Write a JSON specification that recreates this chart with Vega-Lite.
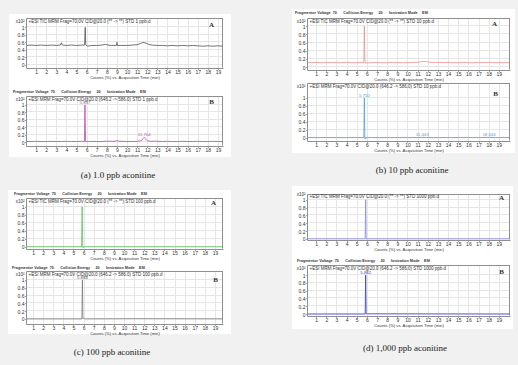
{
 "$schema": "https://vega.github.io/schema/vega-lite/v6.json",
 "background": "#f1f1f1",
 "padding": {"left": 7, "top": 8, "right": 12, "bottom": 12},
 "datasets": {
  "aA": [{"t":0.05,"v":0.52},{"t":0.5,"v":0.53},{"t":1,"v":0.52},{"t":1.5,"v":0.53},{"t":2,"v":0.52},{"t":2.5,"v":0.53},{"t":3,"v":0.52},{"t":3.4,"v":0.53},{"t":3.5,"v":0.59},{"t":3.6,"v":0.53},{"t":4,"v":0.52},{"t":4.5,"v":0.53},{"t":5,"v":0.52},{"t":5.5,"v":0.53},{"t":5.8,"v":0.53},{"t":5.86,"v":1.0},{"t":5.92,"v":0.53},{"t":6.1,"v":0.5},{"t":6.5,"v":0.52},{"t":7,"v":0.52},{"t":7.5,"v":0.53},{"t":7.9,"v":0.55},{"t":8.1,"v":0.53},{"t":8.5,"v":0.52},{"t":8.95,"v":0.52},{"t":9.0,"v":0.6},{"t":9.05,"v":0.52},{"t":9.5,"v":0.52},{"t":10,"v":0.52},{"t":10.5,"v":0.53},{"t":11,"v":0.54},{"t":11.3,"v":0.57},{"t":11.6,"v":0.6},{"t":11.9,"v":0.58},{"t":12.2,"v":0.54},{"t":12.5,"v":0.53},{"t":13,"v":0.52},{"t":13.5,"v":0.52},{"t":14,"v":0.51},{"t":14.5,"v":0.52},{"t":15,"v":0.51},{"t":15.5,"v":0.52},{"t":16,"v":0.51},{"t":16.5,"v":0.52},{"t":17,"v":0.51},{"t":17.5,"v":0.5},{"t":18,"v":0.51},{"t":18.5,"v":0.5},{"t":19,"v":0.51},{"t":19.45,"v":0.5}],
  "aB": [{"t":0.05,"v":0.02},{"t":0.5,"v":0.02},{"t":1,"v":0.025},{"t":1.5,"v":0.02},{"t":2,"v":0.02},{"t":2.5,"v":0.025},{"t":3,"v":0.02},{"t":3.5,"v":0.02},{"t":4,"v":0.025},{"t":4.5,"v":0.02},{"t":5,"v":0.02},{"t":5.5,"v":0.025},{"t":5.78,"v":0.02},{"t":5.837,"v":1.0},{"t":5.9,"v":0.02},{"t":6.2,"v":0.02},{"t":6.5,"v":0.025},{"t":7,"v":0.02},{"t":7.5,"v":0.02},{"t":8,"v":0.03},{"t":8.5,"v":0.025},{"t":8.9,"v":0.03},{"t":9.0,"v":0.05},{"t":9.1,"v":0.03},{"t":9.5,"v":0.025},{"t":10,"v":0.02},{"t":10.5,"v":0.02},{"t":11,"v":0.025},{"t":11.4,"v":0.04},{"t":11.6,"v":0.1},{"t":11.704,"v":0.13},{"t":11.8,"v":0.1},{"t":12.0,"v":0.04},{"t":12.3,"v":0.025},{"t":12.7,"v":0.03},{"t":13,"v":0.025},{"t":13.5,"v":0.02},{"t":14,"v":0.025},{"t":14.5,"v":0.02},{"t":15,"v":0.02},{"t":15.5,"v":0.025},{"t":16,"v":0.02},{"t":16.5,"v":0.02},{"t":17,"v":0.025},{"t":17.5,"v":0.02},{"t":18,"v":0.02},{"t":18.5,"v":0.025},{"t":19,"v":0.02},{"t":19.45,"v":0.02}],
  "bA": [{"t":0.15,"v":0.11},{"t":0.5,"v":0.11},{"t":1,"v":0.115},{"t":1.5,"v":0.11},{"t":2,"v":0.11},{"t":2.5,"v":0.115},{"t":3,"v":0.11},{"t":3.5,"v":0.11},{"t":4,"v":0.115},{"t":4.5,"v":0.11},{"t":5,"v":0.11},{"t":5.5,"v":0.115},{"t":5.7,"v":0.11},{"t":5.75,"v":1.0},{"t":5.8,"v":0.2},{"t":5.85,"v":0.1},{"t":6.0,"v":0.105},{"t":6.5,"v":0.11},{"t":7,"v":0.11},{"t":7.5,"v":0.11},{"t":8,"v":0.11},{"t":8.5,"v":0.115},{"t":9,"v":0.11},{"t":9.5,"v":0.11},{"t":10,"v":0.11},{"t":10.5,"v":0.115},{"t":11,"v":0.115},{"t":11.3,"v":0.13},{"t":11.6,"v":0.14},{"t":11.9,"v":0.13},{"t":12.2,"v":0.12},{"t":12.5,"v":0.115},{"t":13,"v":0.115},{"t":13.5,"v":0.11},{"t":14,"v":0.115},{"t":14.5,"v":0.11},{"t":15,"v":0.11},{"t":15.5,"v":0.115},{"t":16,"v":0.11},{"t":16.5,"v":0.11},{"t":17,"v":0.115},{"t":17.5,"v":0.11},{"t":18,"v":0.115},{"t":18.5,"v":0.11},{"t":19,"v":0.11},{"t":19.5,"v":0.11},{"t":20.05,"v":0.11}],
  "bB": [{"t":0.15,"v":0.005},{"t":1,"v":0.005},{"t":2,"v":0.006},{"t":3,"v":0.005},{"t":4,"v":0.005},{"t":5,"v":0.006},{"t":5.7,"v":0.005},{"t":5.75,"v":1.0},{"t":5.8,"v":0.0},{"t":5.82,"v":-0.03},{"t":5.9,"v":0.005},{"t":7,"v":0.005},{"t":8,"v":0.005},{"t":9,"v":0.006},{"t":10,"v":0.005},{"t":11,"v":0.005},{"t":11.443,"v":0.012},{"t":11.9,"v":0.005},{"t":13,"v":0.005},{"t":14,"v":0.005},{"t":15,"v":0.005},{"t":16,"v":0.005},{"t":17,"v":0.005},{"t":18.034,"v":0.012},{"t":18.5,"v":0.005},{"t":19,"v":0.005},{"t":20.05,"v":0.005}],
  "cA": [{"t":0.35,"v":0.005},{"t":3,"v":0.005},{"t":5.8,"v":0.005},{"t":5.86,"v":1.0},{"t":5.92,"v":0.005},{"t":5.95,"v":-0.02},{"t":6.0,"v":0.005},{"t":10,"v":0.005},{"t":15,"v":0.005},{"t":19.75,"v":0.005}],
  "cB": [{"t":0.35,"v":0.0},{"t":5.83,"v":0.0},{"t":5.884,"v":1.0},{"t":5.93,"v":0.02},{"t":6.05,"v":0.01},{"t":6.2,"v":0.0},{"t":11.5,"v":0.005},{"t":19.75,"v":0.0}],
  "dA": [{"t":0.15,"v":0.0},{"t":5.83,"v":0.0},{"t":5.88,"v":1.0},{"t":5.93,"v":0.0},{"t":20.05,"v":0.0}],
  "dB": [{"t":0.15,"v":0.0},{"t":5.83,"v":0.0},{"t":5.882,"v":1.0},{"t":5.93,"v":0.01},{"t":6.05,"v":0.005},{"t":20.05,"v":0.0}],
  "peaks": [{"p":"aB","t":5.837,"v":1.0,"label":"5.837"},{"p":"aB","t":11.704,"v":0.13,"label":"11.704"},{"p":"bB","t":5.75,"v":1.0,"label":"5.750"},{"p":"bB","t":11.443,"v":0.012,"label":"11.443"},{"p":"bB","t":18.034,"v":0.012,"label":"18.034"},{"p":"cB","t":5.884,"v":1.0,"label":"5.884"},{"p":"dB","t":5.882,"v":1.0,"label":"5.882"}]
 },
 "spacing": 59,
 "bounds": "full",
 "hconcat": [
  {"spacing": 0, "bounds": "flush", "vconcat": [
   {"width":197,"height":50,"view":{"fill":"white","stroke":null},
    "layer":[
     {"data":{"values":[{}]},"mark":{"type":"rect","fill":"white"},
      "encoding":{
       "x":{"datum":-1.683,"type":"quantitative","scale":{"domain":[0,19.5],"nice":false,"zero":false},"axis":{"orient":"bottom","zindex":1,"grid":false,"values":[1,2,3,4,5,6,7,8,9,10,11,12,13,14,15,16,17,18,19],"format":"d","title":"Counts (%) vs. Acquisition Time (min)"}},
       "x2":{"datum":0},
       "y":{"datum":1.356,"type":"quantitative","scale":{"domain":[-0.08,1.25],"nice":false,"zero":false},"axis":{"orient":"left","zindex":1,"grid":false,"values":[0,0.2,0.4,0.6,0.8,1],"format":".1~f","title":"x10²","titleX":-2,"titleY":3}},
       "y2":{"datum":-0.825}}},
     {"data":{"values":[{}]},"mark":{"type":"rect","fill":"white"},"encoding":{"x":{"datum":19.5,"type":"quantitative","axis":null},"x2":{"datum":20.292},"y":{"datum":1.356,"type":"quantitative","axis":null},"y2":{"datum":-0.825}}},
     {"data":{"values":[{}]},"mark":{"type":"rect","fill":"white"},"encoding":{"x":{"datum":-1.683,"type":"quantitative","axis":null},"x2":{"datum":20.292},"y":{"datum":1.356,"type":"quantitative","axis":null},"y2":{"datum":1.25}}},
     {"data":{"values":[{}]},"mark":{"type":"rect","fill":"white"},"encoding":{"x":{"datum":-1.683,"type":"quantitative","axis":null},"x2":{"datum":20.292},"y":{"datum":-0.08,"type":"quantitative","axis":null},"y2":{"datum":-0.825}}},
     {"data":{"name":"aA"},"mark":{"type":"line","stroke":"#505050","strokeWidth":0.8},
      "encoding":{
       "x":{"field":"t","type":"quantitative","axis":{"orient":"top","zindex":0,"grid":true,"values":[1,2,3,4,5,6,7,8,9,10,11,12,13,14,15,16,17,18,19],"title":"+ESI TIC MRM Frag=70.0V CID@20.0 (** -> **) STD 1 ppb.d","titleX":2,"titleY":3}},
       "y":{"field":"v","type":"quantitative","axis":{"orient":"right","zindex":0,"grid":true,"translate":-0.5,"values":[0,0.2,0.4,0.6,0.8,1],"title":"A","titleX":-11,"titleY":7}}}}
    ],
    "resolve":{"axis":{"x":"independent","y":"independent"}}},
   {"width":197,"height":28,"data":{"values":[{}]},"mark":"text","encoding":{"text":{"value":""}}},
   {"width":197,"height":50,"view":{"fill":"white","stroke":null},
    "title":{"text":"Fragmentor Voltage\u00a0\u00a070\u00a0\u00a0\u00a0\u00a0\u00a0\u00a0Collision Energy\u00a0\u00a0\u00a0\u00a0\u00a020\u00a0\u00a0\u00a0\u00a0\u00a0\u00a0Ionization Mode\u00a0\u00a0\u00a0\u00a0ESI","offset":1,"dx":-13},
    "layer":[
     {"data":{"values":[{}]},"mark":{"type":"rect","fill":"white"},
      "encoding":{
       "x":{"datum":-1.683,"type":"quantitative","scale":{"domain":[0,19.5],"nice":false,"zero":false},"axis":{"orient":"bottom","zindex":1,"grid":false,"values":[1,2,3,4,5,6,7,8,9,10,11,12,13,14,15,16,17,18,19],"format":"d","title":"Counts (%) vs. Acquisition Time (min)"}},
       "x2":{"datum":0},
       "y":{"datum":1.267,"type":"quantitative","scale":{"domain":[-0.1,1.24],"nice":false,"zero":false},"axis":{"orient":"left","zindex":1,"grid":false,"values":[0,0.2,0.4,0.6,0.8,1],"format":".1~f","title":"x10²","titleX":-2,"titleY":3}},
       "y2":{"datum":-0.395}}},
     {"data":{"values":[{}]},"mark":{"type":"rect","fill":"white"},"encoding":{"x":{"datum":19.5,"type":"quantitative","axis":null},"x2":{"datum":20.292},"y":{"datum":1.267,"type":"quantitative","axis":null},"y2":{"datum":-0.395}}},
     {"data":{"values":[{}]},"mark":{"type":"rect","fill":"white"},"encoding":{"x":{"datum":-1.683,"type":"quantitative","axis":null},"x2":{"datum":20.292},"y":{"datum":1.267,"type":"quantitative","axis":null},"y2":{"datum":1.24}}},
     {"data":{"values":[{}]},"mark":{"type":"rect","fill":"white"},"encoding":{"x":{"datum":-1.683,"type":"quantitative","axis":null},"x2":{"datum":20.292},"y":{"datum":-0.1,"type":"quantitative","axis":null},"y2":{"datum":-0.395}}},
     {"data":{"name":"aB"},"mark":{"type":"line","stroke":"#b848b8","strokeWidth":0.8},
      "encoding":{
       "x":{"field":"t","type":"quantitative","axis":{"orient":"top","zindex":0,"grid":true,"values":[1,2,3,4,5,6,7,8,9,10,11,12,13,14,15,16,17,18,19],"title":"+ESI MRM Frag=70.0V CID@20.0 (646.2 -> 586.0) STD 1 ppb.d","titleX":2,"titleY":3}},
       "y":{"field":"v","type":"quantitative","axis":{"orient":"right","zindex":0,"grid":true,"translate":-0.5,"values":[0,0.2,0.4,0.6,0.8,1],"title":"B","titleX":-11,"titleY":6}}}},
     {"data":{"name":"peaks"},"transform":[{"filter":"datum.p === 'aB'"}],"mark":{"type":"text","fontSize":4.3,"baseline":"bottom","dy":0,"color":"#b848b8"},
      "encoding":{"x":{"field":"t","type":"quantitative","axis":null},"y":{"field":"v","type":"quantitative","axis":null},"text":{"field":"label"}}}
    ],
    "resolve":{"axis":{"x":"independent","y":"independent"}}},
   {"width":197,"height":52,"data":{"values":[{"cap":"(a) 1.0 ppb aconitine"}]},"mark":{"type":"text","font":"Liberation Serif","fontSize":9,"color":"#222","dx":-6.5,"dy":3},"encoding":{"text":{"field":"cap"}}},
   {"width":197,"height":51,"view":{"fill":"white","stroke":null},
    "title":{"text":"Fragmentor Voltage\u00a0\u00a070\u00a0\u00a0\u00a0\u00a0\u00a0\u00a0Collision Energy\u00a0\u00a0\u00a0\u00a0\u00a020\u00a0\u00a0\u00a0\u00a0\u00a0\u00a0Ionization Mode\u00a0\u00a0\u00a0\u00a0ESI","offset":-6,"dx":-12},
    "layer":[
     {"data":{"values":[{}]},"mark":{"type":"rect","fill":"white"},
      "encoding":{
       "x":{"datum":-1.482,"type":"quantitative","scale":{"domain":[0.3,19.8],"nice":false,"zero":false},"axis":{"orient":"bottom","zindex":1,"grid":false,"values":[1,2,3,4,5,6,7,8,9,10,11,12,13,14,15,16,17,18,19],"format":"d","title":"Counts (%) vs. Acquisition Time (min)"}},
       "x2":{"datum":0.3},
       "y":{"datum":1.419,"type":"quantitative","scale":{"domain":[-0.05,1.22],"nice":false,"zero":false},"axis":{"orient":"left","zindex":1,"grid":false,"values":[0,0.2,0.4,0.6,0.8,1],"format":".1~f","title":"x10²","titleX":-2,"titleY":3}},
       "y2":{"datum":-0.598}}},
     {"data":{"values":[{}]},"mark":{"type":"rect","fill":"white"},"encoding":{"x":{"datum":19.8,"type":"quantitative","axis":null},"x2":{"datum":20.59},"y":{"datum":1.419,"type":"quantitative","axis":null},"y2":{"datum":-0.598}}},
     {"data":{"values":[{}]},"mark":{"type":"rect","fill":"white"},"encoding":{"x":{"datum":-1.482,"type":"quantitative","axis":null},"x2":{"datum":20.59},"y":{"datum":1.419,"type":"quantitative","axis":null},"y2":{"datum":1.22}}},
     {"data":{"values":[{}]},"mark":{"type":"rect","fill":"white"},"encoding":{"x":{"datum":-1.482,"type":"quantitative","axis":null},"x2":{"datum":20.59},"y":{"datum":-0.05,"type":"quantitative","axis":null},"y2":{"datum":-0.598}}},
     {"data":{"name":"cA"},"mark":{"type":"line","stroke":"#5cbf5c","strokeWidth":0.8},
      "encoding":{
       "x":{"field":"t","type":"quantitative","axis":{"orient":"top","zindex":0,"grid":true,"values":[1,2,3,4,5,6,7,8,9,10,11,12,13,14,15,16,17,18,19],"title":"+ESI TIC MRM Frag=70.0V CID@20.0 (** -> **) STD 100 ppb.d","titleX":2,"titleY":3}},
       "y":{"field":"v","type":"quantitative","axis":{"orient":"right","zindex":0,"grid":true,"translate":-0.5,"values":[0,0.2,0.4,0.6,0.8,1],"title":"A","titleX":-9,"titleY":5}}}}
    ],
    "resolve":{"axis":{"x":"independent","y":"independent"}}},
   {"width":197,"height":22,"data":{"values":[{}]},"mark":"text","encoding":{"text":{"value":""}}},
   {"width":197,"height":53,"view":{"fill":"white","stroke":null},
    "title":{"text":"Fragmentor Voltage\u00a0\u00a070\u00a0\u00a0\u00a0\u00a0\u00a0\u00a0Collision Energy\u00a0\u00a0\u00a0\u00a0\u00a020\u00a0\u00a0\u00a0\u00a0\u00a0\u00a0Ionization Mode\u00a0\u00a0\u00a0\u00a0ESI","offset":0,"dx":-14},
    "layer":[
     {"data":{"values":[{}]},"mark":{"type":"rect","fill":"white"},
      "encoding":{
       "x":{"datum":-1.482,"type":"quantitative","scale":{"domain":[0.3,19.8],"nice":false,"zero":false},"axis":{"orient":"bottom","zindex":1,"grid":false,"values":[1,2,3,4,5,6,7,8,9,10,11,12,13,14,15,16,17,18,19],"format":"d","title":"Counts (%) vs. Acquisition Time (min)"}},
       "x2":{"datum":0.3},
       "y":{"datum":1.256,"type":"quantitative","scale":{"domain":[-0.13,1.23],"nice":false,"zero":false},"axis":{"orient":"left","zindex":1,"grid":false,"values":[0,0.2,0.4,0.6,0.8,1],"format":".1~f","title":"x10²","titleX":-2,"titleY":3}},
       "y2":{"datum":-0.387}}},
     {"data":{"values":[{}]},"mark":{"type":"rect","fill":"white"},"encoding":{"x":{"datum":19.8,"type":"quantitative","axis":null},"x2":{"datum":20.59},"y":{"datum":1.256,"type":"quantitative","axis":null},"y2":{"datum":-0.387}}},
     {"data":{"values":[{}]},"mark":{"type":"rect","fill":"white"},"encoding":{"x":{"datum":-1.482,"type":"quantitative","axis":null},"x2":{"datum":20.59},"y":{"datum":1.256,"type":"quantitative","axis":null},"y2":{"datum":1.23}}},
     {"data":{"values":[{}]},"mark":{"type":"rect","fill":"white"},"encoding":{"x":{"datum":-1.482,"type":"quantitative","axis":null},"x2":{"datum":20.59},"y":{"datum":-0.13,"type":"quantitative","axis":null},"y2":{"datum":-0.387}}},
     {"data":{"name":"cB"},"mark":{"type":"line","stroke":"#777777","strokeWidth":0.8},
      "encoding":{
       "x":{"field":"t","type":"quantitative","axis":{"orient":"top","zindex":0,"grid":true,"values":[1,2,3,4,5,6,7,8,9,10,11,12,13,14,15,16,17,18,19],"title":"+ESI MRM Frag=70.0V CID@20.0 (646.2 -> 586.0) STD 100 ppb.d","titleX":2,"titleY":3}},
       "y":{"field":"v","type":"quantitative","axis":{"orient":"right","zindex":0,"grid":true,"translate":-0.5,"values":[0,0.2,0.4,0.6,0.8,1],"title":"B","titleX":-7,"titleY":9}}}},
     {"data":{"name":"peaks"},"transform":[{"filter":"datum.p === 'cB'"}],"mark":{"type":"text","fontSize":4.3,"baseline":"bottom","dy":0,"color":"#555555"},
      "encoding":{"x":{"field":"t","type":"quantitative","axis":null},"y":{"field":"v","type":"quantitative","axis":null},"text":{"field":"label"}}}
    ],
    "resolve":{"axis":{"x":"independent","y":"independent"}}},
   {"width":197,"height":46,"data":{"values":[{"cap":"(c) 100 ppb aconitine"}]},"mark":{"type":"text","font":"Liberation Serif","fontSize":9,"color":"#222","dx":-12.5,"dy":5},"encoding":{"text":{"field":"cap"}}}
  ]},
  {"spacing": 0, "bounds": "flush", "vconcat": [
   {"width":203,"height":52,"view":{"fill":"white","stroke":null},
    "title":{"text":"Fragmentor Voltage\u00a0\u00a070\u00a0\u00a0\u00a0\u00a0\u00a0\u00a0Collision Energy\u00a0\u00a0\u00a0\u00a0\u00a020\u00a0\u00a0\u00a0\u00a0\u00a0\u00a0Ionization Mode\u00a0\u00a0\u00a0\u00a0ESI","offset":-6.3,"dx":-12},
    "layer":[
     {"data":{"values":[{}]},"mark":{"type":"rect","fill":"white"},
      "encoding":{
       "x":{"datum":-1.378,"type":"quantitative","scale":{"domain":[0.1,20.1],"nice":false,"zero":false},"axis":{"orient":"bottom","zindex":1,"grid":false,"values":[1,2,3,4,5,6,7,8,9,10,11,12,13,14,15,16,17,18,19],"format":"d","title":"Counts (%) vs. Acquisition Time (min)"}},
       "x2":{"datum":0.1},
       "y":{"datum":1.42,"type":"quantitative","scale":{"domain":[-0.07,1.2],"nice":false,"zero":false},"axis":{"orient":"left","zindex":1,"grid":false,"values":[0,0.2,0.4,0.6,0.8,1],"format":".1~f","title":"x10²","titleX":-2,"titleY":3}},
       "y2":{"datum":-0.387}}},
     {"data":{"values":[{}]},"mark":{"type":"rect","fill":"white"},"encoding":{"x":{"datum":20.1,"type":"quantitative","axis":null},"x2":{"datum":20.59},"y":{"datum":1.42,"type":"quantitative","axis":null},"y2":{"datum":-0.387}}},
     {"data":{"values":[{}]},"mark":{"type":"rect","fill":"white"},"encoding":{"x":{"datum":-1.378,"type":"quantitative","axis":null},"x2":{"datum":20.59},"y":{"datum":1.42,"type":"quantitative","axis":null},"y2":{"datum":1.2}}},
     {"data":{"values":[{}]},"mark":{"type":"rect","fill":"white"},"encoding":{"x":{"datum":-1.378,"type":"quantitative","axis":null},"x2":{"datum":20.59},"y":{"datum":-0.07,"type":"quantitative","axis":null},"y2":{"datum":-0.387}}},
     {"data":{"name":"bA"},"mark":{"type":"line","stroke":"#ec8f8f","strokeWidth":0.8},
      "encoding":{
       "x":{"field":"t","type":"quantitative","axis":{"orient":"top","zindex":0,"grid":true,"values":[1,2,3,4,5,6,7,8,9,10,11,12,13,14,15,16,17,18,19],"title":"+ESI TIC MRM Frag=70.0V CID@20.0 (** -> **) STD 10 ppb.d","titleX":2,"titleY":3}},
       "y":{"field":"v","type":"quantitative","axis":{"orient":"right","zindex":0,"grid":true,"translate":-0.5,"values":[0,0.2,0.4,0.6,0.8,1],"title":"A","titleX":-15,"titleY":6}}}}
    ],
    "resolve":{"axis":{"x":"independent","y":"independent"}}},
   {"width":203,"height":13,"data":{"values":[{}]},"mark":"text","encoding":{"text":{"value":""}}},
   {"width":203,"height":58,"view":{"fill":"white","stroke":null},
    "layer":[
     {"data":{"values":[{}]},"mark":{"type":"rect","fill":"white"},
      "encoding":{
       "x":{"datum":-1.378,"type":"quantitative","scale":{"domain":[0.1,20.1],"nice":false,"zero":false},"axis":{"orient":"bottom","zindex":1,"grid":false,"values":[1,2,3,4,5,6,7,8,9,10,11,12,13,14,15,16,17,18,19],"format":"d","title":"Counts (%) vs. Acquisition Time (min)"}},
       "x2":{"datum":0.1},
       "y":{"datum":1.395,"type":"quantitative","scale":{"domain":[-0.08,1.37],"nice":false,"zero":false},"axis":{"orient":"left","zindex":1,"grid":false,"values":[0,0.2,0.4,0.6,0.8,1],"format":".1~f","title":"x10²","titleX":-2,"titleY":3}},
       "y2":{"datum":-0.38}}},
     {"data":{"values":[{}]},"mark":{"type":"rect","fill":"white"},"encoding":{"x":{"datum":20.1,"type":"quantitative","axis":null},"x2":{"datum":20.59},"y":{"datum":1.395,"type":"quantitative","axis":null},"y2":{"datum":-0.38}}},
     {"data":{"values":[{}]},"mark":{"type":"rect","fill":"white"},"encoding":{"x":{"datum":-1.378,"type":"quantitative","axis":null},"x2":{"datum":20.59},"y":{"datum":1.395,"type":"quantitative","axis":null},"y2":{"datum":1.37}}},
     {"data":{"values":[{}]},"mark":{"type":"rect","fill":"white"},"encoding":{"x":{"datum":-1.378,"type":"quantitative","axis":null},"x2":{"datum":20.59},"y":{"datum":-0.08,"type":"quantitative","axis":null},"y2":{"datum":-0.38}}},
     {"data":{"name":"bB"},"mark":{"type":"line","stroke":"#4f9de0","strokeWidth":0.8},
      "encoding":{
       "x":{"field":"t","type":"quantitative","axis":{"orient":"top","zindex":0,"grid":true,"values":[1,2,3,4,5,6,7,8,9,10,11,12,13,14,15,16,17,18,19],"title":"+ESI MRM Frag=70.0V CID@20.0 (646.2 -> 586.0) STD 10 ppb.d","titleX":2,"titleY":3}},
       "y":{"field":"v","type":"quantitative","axis":{"orient":"right","zindex":0,"grid":true,"translate":-0.5,"values":[0,0.2,0.4,0.6,0.8,1],"title":"B","titleX":-14,"titleY":11}}}},
     {"data":{"name":"peaks"},"transform":[{"filter":"datum.p === 'bB'"}],"mark":{"type":"text","fontSize":4.3,"baseline":"bottom","dy":0,"color":"#4f9de0"},
      "encoding":{"x":{"field":"t","type":"quantitative","axis":null},"y":{"field":"v","type":"quantitative","axis":null},"text":{"field":"label"}}}
    ],
    "resolve":{"axis":{"x":"independent","y":"independent"}}},
   {"width":203,"height":53,"data":{"values":[{"cap":"(b) 10 ppb aconitine"}]},"mark":{"type":"text","font":"Liberation Serif","fontSize":9,"color":"#222","dx":3.5,"dy":2.5},"encoding":{"text":{"field":"cap"}}},
   {"width":203,"height":46,"view":{"fill":"white","stroke":null},
    "layer":[
     {"data":{"values":[{}]},"mark":{"type":"rect","fill":"white"},
      "encoding":{
       "x":{"datum":-1.378,"type":"quantitative","scale":{"domain":[0.1,20.1],"nice":false,"zero":false},"axis":{"orient":"bottom","zindex":1,"grid":false,"values":[1,2,3,4,5,6,7,8,9,10,11,12,13,14,15,16,17,18,19],"format":"d","title":"Counts (%) vs. Acquisition Time (min)"}},
       "x2":{"datum":0.1},
       "y":{"datum":1.355,"type":"quantitative","scale":{"domain":[-0.03,1.15],"nice":false,"zero":false},"axis":{"orient":"left","zindex":1,"grid":false,"values":[0,0.2,0.4,0.6,0.8,1],"format":".1~f","title":"x10²","titleX":-2,"titleY":0.5}},
       "y2":{"datum":-0.671}}},
     {"data":{"values":[{}]},"mark":{"type":"rect","fill":"white"},"encoding":{"x":{"datum":20.1,"type":"quantitative","axis":null},"x2":{"datum":20.4},"y":{"datum":1.355,"type":"quantitative","axis":null},"y2":{"datum":-0.671}}},
     {"data":{"values":[{}]},"mark":{"type":"rect","fill":"white"},"encoding":{"x":{"datum":-1.378,"type":"quantitative","axis":null},"x2":{"datum":20.4},"y":{"datum":1.355,"type":"quantitative","axis":null},"y2":{"datum":1.15}}},
     {"data":{"values":[{}]},"mark":{"type":"rect","fill":"white"},"encoding":{"x":{"datum":-1.378,"type":"quantitative","axis":null},"x2":{"datum":20.4},"y":{"datum":-0.03,"type":"quantitative","axis":null},"y2":{"datum":-0.671}}},
     {"data":{"name":"dA"},"mark":{"type":"line","stroke":"#8585e6","strokeWidth":0.8},
      "encoding":{
       "x":{"field":"t","type":"quantitative","axis":{"orient":"top","zindex":0,"grid":true,"values":[1,2,3,4,5,6,7,8,9,10,11,12,13,14,15,16,17,18,19],"title":"+ESI TIC MRM Frag=70.0V CID@20.0 (** -> **) STD 1000 ppb.d","titleX":2,"titleY":2.5}},
       "y":{"field":"v","type":"quantitative","axis":{"orient":"right","zindex":0,"grid":true,"translate":-0.5,"values":[0,0.2,0.4,0.6,0.8,1],"title":"A","titleX":-8,"titleY":4}}}}
    ],
    "resolve":{"axis":{"x":"independent","y":"independent"}}},
   {"width":203,"height":25,"data":{"values":[{}]},"mark":"text","encoding":{"text":{"value":""}}},
   {"width":203,"height":51,"view":{"fill":"white","stroke":null},
    "title":{"text":"Fragmentor Voltage\u00a0\u00a070\u00a0\u00a0\u00a0\u00a0\u00a0\u00a0Collision Energy\u00a0\u00a0\u00a0\u00a0\u00a020\u00a0\u00a0\u00a0\u00a0\u00a0\u00a0Ionization Mode\u00a0\u00a0\u00a0\u00a0ESI","offset":1,"dx":-10},
    "layer":[
     {"data":{"values":[{}]},"mark":{"type":"rect","fill":"white"},
      "encoding":{
       "x":{"datum":-1.378,"type":"quantitative","scale":{"domain":[0.1,20.1],"nice":false,"zero":false},"axis":{"orient":"bottom","zindex":1,"grid":false,"values":[1,2,3,4,5,6,7,8,9,10,11,12,13,14,15,16,17,18,19],"format":"d","title":"Counts (%) vs. Acquisition Time (min)"}},
       "x2":{"datum":0.1},
       "y":{"datum":1.286,"type":"quantitative","scale":{"domain":[-0.05,1.26],"nice":false,"zero":false},"axis":{"orient":"left","zindex":1,"grid":false,"values":[0,0.2,0.4,0.6,0.8,1],"format":".1~f","title":"x10²","titleX":-2,"titleY":3}},
       "y2":{"datum":-0.384}}},
     {"data":{"values":[{}]},"mark":{"type":"rect","fill":"white"},"encoding":{"x":{"datum":20.1,"type":"quantitative","axis":null},"x2":{"datum":20.4},"y":{"datum":1.286,"type":"quantitative","axis":null},"y2":{"datum":-0.384}}},
     {"data":{"values":[{}]},"mark":{"type":"rect","fill":"white"},"encoding":{"x":{"datum":-1.378,"type":"quantitative","axis":null},"x2":{"datum":20.4},"y":{"datum":1.286,"type":"quantitative","axis":null},"y2":{"datum":1.26}}},
     {"data":{"values":[{}]},"mark":{"type":"rect","fill":"white"},"encoding":{"x":{"datum":-1.378,"type":"quantitative","axis":null},"x2":{"datum":20.4},"y":{"datum":-0.05,"type":"quantitative","axis":null},"y2":{"datum":-0.384}}},
     {"data":{"name":"dB"},"mark":{"type":"line","stroke":"#3a3ad0","strokeWidth":0.8},
      "encoding":{
       "x":{"field":"t","type":"quantitative","axis":{"orient":"top","zindex":0,"grid":true,"values":[1,2,3,4,5,6,7,8,9,10,11,12,13,14,15,16,17,18,19],"title":"+ESI MRM Frag=70.0V CID@20.0 (646.2 -> 586.0) STD 1000 ppb.d","titleX":2,"titleY":3}},
       "y":{"field":"v","type":"quantitative","axis":{"orient":"right","zindex":0,"grid":true,"translate":-0.5,"values":[0,0.2,0.4,0.6,0.8,1],"title":"B","titleX":-8,"titleY":7}}}},
     {"data":{"name":"peaks"},"transform":[{"filter":"datum.p === 'dB'"}],"mark":{"type":"text","fontSize":4.3,"baseline":"bottom","dy":0,"color":"#3a3ad0"},
      "encoding":{"x":{"field":"t","type":"quantitative","axis":null},"y":{"field":"v","type":"quantitative","axis":null},"text":{"field":"label"}}}
    ],
    "resolve":{"axis":{"x":"independent","y":"independent"}}},
   {"width":203,"height":50,"data":{"values":[{"cap":"(d) 1,000 ppb aconitine"}]},"mark":{"type":"text","font":"Liberation Serif","fontSize":9,"color":"#222","dx":-3.5,"dy":7},"encoding":{"text":{"field":"cap"}}}
  ]}
 ],
 "config": {
  "view": {"stroke": null},
  "font": "Liberation Sans",
  "title": {"font": "Liberation Sans", "fontSize": 3.8, "fontWeight": "bold", "color": "#333", "anchor": "start", "frame": "group"},
  "axis": {"labelFont": "Liberation Sans", "titleFont": "Liberation Sans", "labelColor": "#333", "titleColor": "#333", "domainColor": "#8f8f8f", "tickColor": "#8f8f8f", "gridColor": "#e6e6e6", "domainWidth": 1, "tickWidth": 0.8, "titleFontWeight": "normal", "labelFontSize": 5, "labelOverlap": false},
  "axisBottom": {"tickSize": 1.5, "labelPadding": 0, "titleFontSize": 4.2, "titlePadding": 0.5},
  "axisLeft": {"tickSize": 1.5, "labelPadding": 0.5, "titleAngle": 0, "titleAlign": "right", "titleBaseline": "middle", "titleFontSize": 4.5},
  "axisTop": {"labels": false, "ticks": false, "titleAlign": "left", "titleBaseline": "middle", "titleFontSize": 4.5, "titleAngle": 0},
  "axisRight": {"labels": false, "ticks": false, "titleAngle": 0, "titleAlign": "center", "titleBaseline": "middle", "titleFont": "Liberation Serif", "titleFontWeight": "bold", "titleFontSize": 7}
 }
}
